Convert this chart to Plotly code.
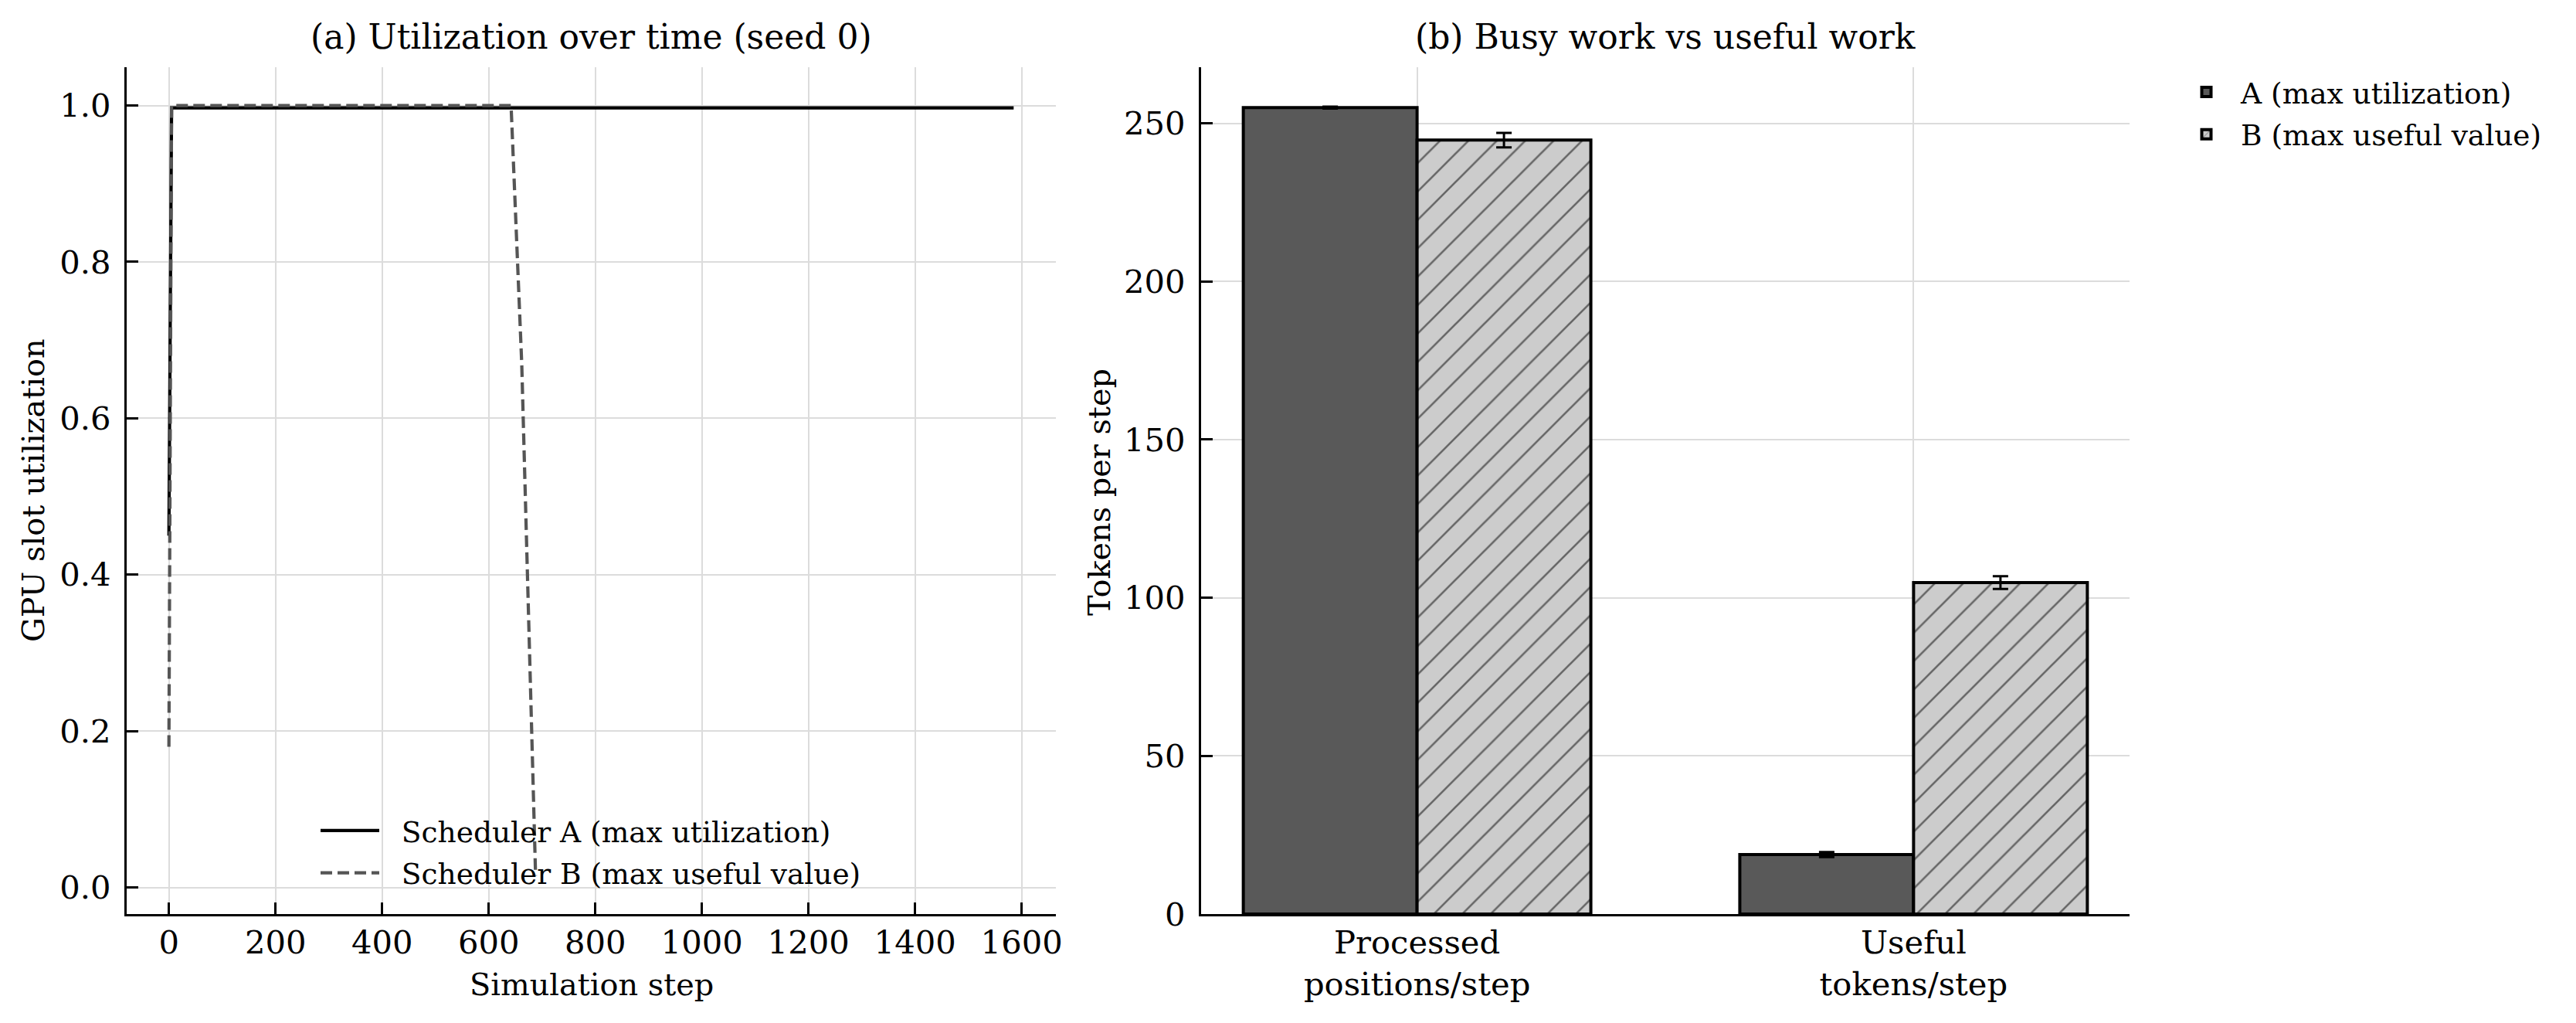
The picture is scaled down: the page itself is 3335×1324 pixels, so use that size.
import plotly.graph_objects as go

# ---------------- data ----------------
# (a) utilization over time (seed 0)
steps_a = [0, 5, 1585]
util_a = [0.45, 0.997, 0.997]
steps_b = [0, 5, 642, 662, 688]
util_b = [0.18, 1.0, 1.0, 0.67, 0.015]

# (b) busy work vs useful work
categories = ["Processed<br>positions/step", "Useful<br>tokens/step"]
vals_a = [255.0, 18.8]
err_a = [0.3, 0.8]
vals_b = [244.7, 104.8]
err_b = [2.3, 2.0]

x_ticks = [0, 200, 400, 600, 800, 1000, 1200, 1400, 1600]
y_ticks_a = [0.0, 0.2, 0.4, 0.6, 0.8, 1.0]
y_ticks_b = [0, 50, 100, 150, 200, 250]

# ---------------- figure ----------------
W, H = 3335, 1324
FONT = "DejaVu Serif"
FS = 41.7      # tick labels
TFS = 44.0     # panel titles
AFS = 39.8     # axis titles
LFS = 37.5     # legend
SPINE = 3.3
GRID = "#dcdcdc"
PAD = "\u00a0\u00a0"   # gap between legend key and text

def px(xp):
    return xp / W

def py(yp):
    return 1 - yp / H

fig = go.Figure()

fig.add_trace(go.Scatter(x=steps_a, y=util_a, mode="lines",
                         name=PAD + "Scheduler A (max utilization)",
                         line=dict(color="black", width=4.2),
                         xaxis="x", yaxis="y", legend="legend", legendgroup="a"))
fig.add_trace(go.Scatter(x=steps_b, y=util_b, mode="lines",
                         name=PAD + "Scheduler B (max useful value)",
                         line=dict(color="#555555", width=4.2, dash="15px,7px"),
                         xaxis="x", yaxis="y", legend="legend", legendgroup="b"))

fig.add_trace(go.Bar(x=categories, y=vals_a, name="A (max utilization)",
                     marker=dict(color="#595959", line=dict(color="black", width=4)),
                     error_y=dict(type="data", array=err_a, color="black", thickness=3, width=10),
                     xaxis="x2", yaxis="y2", legend="legend2", legendgroup="c"))
fig.add_trace(go.Bar(x=categories, y=vals_b, name="B (max useful value)",
                     marker=dict(color="#cccccc", line=dict(color="black", width=4),
                                 pattern=dict(shape="/", fgcolor="black", bgcolor="#cccccc",
                                              size=26, solidity=0.1)),
                     error_y=dict(type="data", array=err_b, color="black", thickness=3, width=10),
                     xaxis="x2", yaxis="y2", legend="legend2", legendgroup="d"))

axis_common = dict(
    showline=True, linecolor="black", linewidth=SPINE, mirror=False,
    ticks="inside", ticklen=14.6, tickwidth=SPINE, tickcolor="black",
    showgrid=True, gridcolor=GRID, gridwidth=2, zeroline=False,
    tickfont=dict(family=FONT, size=FS, color="black"),
)

ydom = [py(1183), py(87)]

fig.update_layout(
    width=W, height=H,
    margin=dict(l=0, r=0, t=0, b=0, autoexpand=False),
    paper_bgcolor="white", plot_bgcolor="white",
    font=dict(family=FONT, size=FS, color="black"),
    barmode="group", bargap=0.3, bargroupgap=0.0,
    xaxis=dict(domain=[px(164), px(1367)], range=[-79.25, 1664.25],
               tickvals=x_ticks, anchor="y", ticklabelstandoff=-2, **axis_common),
    yaxis=dict(domain=ydom, range=[-0.034, 1.049], tickvals=y_ticks_a,
               ticktext=[f"{v:.1f}" for v in y_ticks_a], anchor="x",
               ticklabelstandoff=9, **axis_common),
    xaxis2=dict(domain=[px(1555), px(2757)], type="category", range=[-0.435, 1.435],
                anchor="y2", ticklabelstandoff=-2, **axis_common),
    yaxis2=dict(domain=ydom, range=[0, 267.75], tickvals=y_ticks_b, anchor="x2",
                ticklabelstandoff=9, **axis_common),
    legend=dict(x=px(410), y=py(1044), xanchor="left", yanchor="top",
                bgcolor="rgba(0,0,0,0)", borderwidth=0, itemwidth=76,
                font=dict(family=FONT, size=LFS, color="black"), tracegroupgap=3),
    legend2=dict(x=px(2812), y=py(88), xanchor="left", yanchor="top",
                 bgcolor="rgba(0,0,0,0)", borderwidth=0, itemwidth=79,
                 font=dict(family=FONT, size=LFS, color="black"), tracegroupgap=3),
    showlegend=True,
)

annots = [
    dict(text="(a) Utilization over time (seed 0)", x=px((164 + 1367) / 2), y=py(47), fs=TFS),
    dict(text="(b) Busy work vs useful work", x=px((1555 + 2757) / 2), y=py(47), fs=TFS),
    dict(text="Simulation step", x=px((164 + 1367) / 2), y=py(1274), fs=AFS),
    dict(text="GPU slot utilization", x=px(43), y=py(635), textangle=-90, fs=AFS),
    dict(text="Tokens per step", x=px(1423), y=py(637), textangle=-90, fs=AFS),
]
for a in annots:
    fs = a.pop("fs")
    fig.add_annotation(xref="paper", yref="paper", xanchor="center", yanchor="middle",
                       showarrow=False, font=dict(family=FONT, size=fs, color="black"), **a)

fig.write_html("out.html")
